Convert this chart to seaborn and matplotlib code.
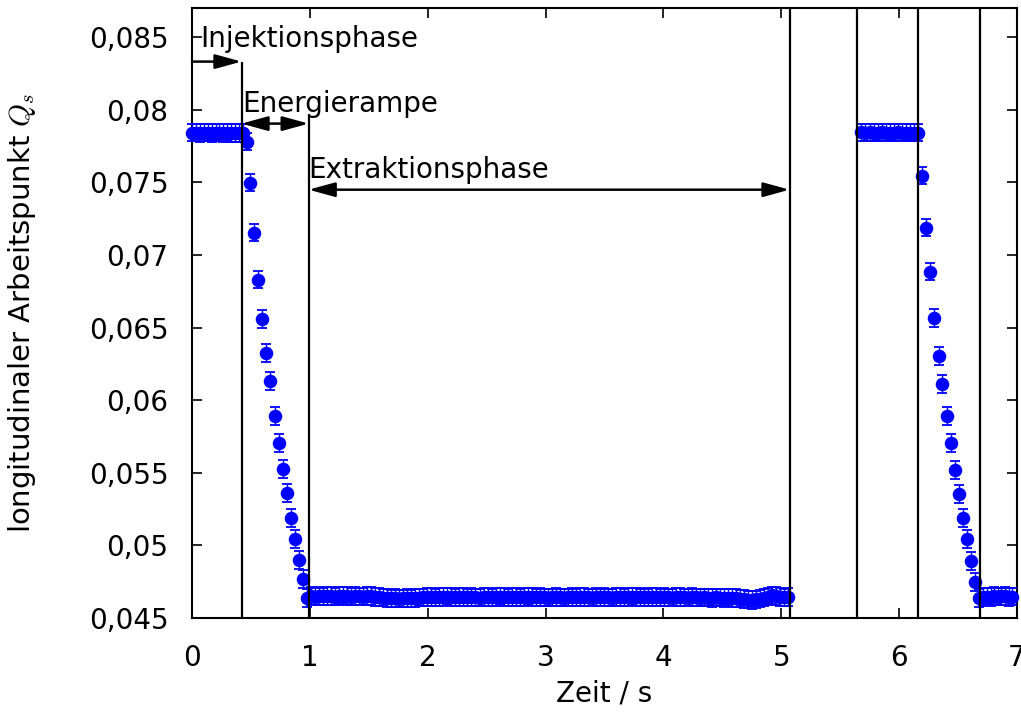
import numpy as np
import pandas as pd
import matplotlib
matplotlib.use("Agg")
import matplotlib.pyplot as plt
import seaborn as sns

# ---------------- data ----------------
# injection phase, cycle 1 (flat plateau)
inj1_t = (0.0, 0.433)
inj1_q = [0.07842, 0.07841, 0.07840, 0.07842, 0.07841, 0.07840, 0.07841,
          0.07842, 0.07840, 0.07841, 0.07840, 0.07839, 0.07840, 0.07838]
# energy ramp, cycle 1
ramp1_t = [0.467, 0.492, 0.526, 0.560, 0.594, 0.628, 0.662, 0.705,
           0.739, 0.772, 0.806, 0.840, 0.874, 0.908, 0.942, 0.976]
ramp1_q = [0.07780, 0.07497, 0.07153, 0.06829, 0.06560, 0.06326, 0.06133, 0.05892,
           0.05706, 0.05527, 0.05361, 0.05189, 0.05044, 0.04900, 0.04769, 0.04638]
# extraction phase, cycle 1
ext1_t = (1.01, 5.06)
ext1_q = [0.04650, 0.04648, 0.04651, 0.04649, 0.04652, 0.04650, 0.04648, 0.04651, 0.04653, 0.04650,
          0.04648, 0.04651, 0.04649, 0.04647, 0.04650, 0.04652, 0.04646, 0.04644, 0.04641, 0.04638,
          0.04635, 0.04637, 0.04634, 0.04636, 0.04638, 0.04635, 0.04637, 0.04640, 0.04642, 0.04644,
          0.04645, 0.04643, 0.04646, 0.04644, 0.04647, 0.04645, 0.04643, 0.04646, 0.04644, 0.04642,
          0.04645, 0.04643, 0.04641, 0.04644, 0.04646, 0.04643, 0.04645, 0.04647, 0.04644, 0.04642,
          0.04644, 0.04646, 0.04643, 0.04645, 0.04647, 0.04644, 0.04642, 0.04645, 0.04643, 0.04641,
          0.04643, 0.04645, 0.04642, 0.04640, 0.04643, 0.04645, 0.04642, 0.04644, 0.04646, 0.04643,
          0.04641, 0.04644, 0.04642, 0.04645, 0.04643, 0.04641, 0.04644, 0.04646, 0.04643, 0.04645,
          0.04647, 0.04644, 0.04642, 0.04645, 0.04643, 0.04646, 0.04644, 0.04642, 0.04645, 0.04643,
          0.04641, 0.04644, 0.04646, 0.04643, 0.04641, 0.04644, 0.04642, 0.04640, 0.04643, 0.04641,
          0.04639, 0.04642, 0.04640, 0.04638, 0.04641, 0.04639, 0.04637, 0.04634, 0.04630, 0.04627,
          0.04625, 0.04628, 0.04633, 0.04640, 0.04648, 0.04655, 0.04650, 0.04645, 0.04642, 0.04644]
# injection phase, cycle 2
inj2_t = (5.68, 6.163)
inj2_q = [0.07843, 0.07842, 0.07843, 0.07841, 0.07842, 0.07843, 0.07842, 0.07841,
          0.07842, 0.07843, 0.07842, 0.07841, 0.07842, 0.07841, 0.07842]
# energy ramp, cycle 2
ramp2_t = [6.197, 6.231, 6.265, 6.299, 6.341, 6.367, 6.409, 6.443,
           6.477, 6.511, 6.545, 6.579, 6.613, 6.647, 6.681]
ramp2_q = [0.07545, 0.07187, 0.06884, 0.06567, 0.06305, 0.06112, 0.05892, 0.05706,
           0.05520, 0.05354, 0.05189, 0.05044, 0.04893, 0.04749, 0.04638]
# extraction phase, cycle 2
ext2_t = (6.715, 6.96)
ext2_q = [0.04645, 0.04648, 0.04646, 0.04650, 0.04647, 0.04649, 0.04651, 0.04646, 0.04648]

q_err = 0.0006  # error bar half-length

# phase boundaries (vertical lines) and the upper end of each line
phase_x = [0.42, 0.99, 5.07, 5.64, 6.16, 6.69]
phase_top = [0.0833, 0.0797, 0.087, 0.087, 0.087, 0.087]

x_ticks = [0, 1, 2, 3, 4, 5, 6, 7]
x_labels = ["0", "1", "2", "3", "4", "5", "6", "7"]
y_ticks = [0.045, 0.05, 0.055, 0.06, 0.065, 0.07, 0.075, 0.08, 0.085]
y_labels = ["0,045", "0,05", "0,055", "0,06", "0,065", "0,07", "0,075", "0,08", "0,085"]

# annotations: (label, text x, text y, arrow x0, arrow x1, arrow y, style)
annots = [
    ("Injektionsphase", 0.07, 0.08434, 0.0, 0.42, 0.08331, "-|>"),
    ("Energierampe", 0.43, 0.07986, 0.42, 0.99, 0.07904, "<|-|>"),
    ("Extraktionsphase", 0.985, 0.07531, 0.99, 5.07, 0.07449, "<|-|>"),
]

# ---------------- build table ----------------
def seg(trange, q):
    return pd.DataFrame({"t": np.linspace(trange[0], trange[1], len(q)), "q": q})

df = pd.concat([
    seg(inj1_t, inj1_q),
    pd.DataFrame({"t": ramp1_t, "q": ramp1_q}),
    seg(ext1_t, ext1_q),
    seg(inj2_t, inj2_q),
    pd.DataFrame({"t": ramp2_t, "q": ramp2_q}),
    seg(ext2_t, ext2_q),
], ignore_index=True)

# ---------------- style ----------------
sns.set_theme(style="ticks", rc={"axes.edgecolor": "black", "text.color": "black",
                                 "axes.labelcolor": "black", "xtick.color": "black",
                                 "ytick.color": "black"})
plt.rcParams["font.family"] = ["DejaVu Sans"]
plt.rcParams["mathtext.fontset"] = "cm"

W, H = 1021, 722
fig = plt.figure(figsize=(W / 100, H / 100), dpi=100)
ax = fig.add_axes([192 / W, 1 - 618 / H, (1017 - 192) / W, (618 - 8) / H])

blue = "#0000ff"
ax.errorbar(df["t"], df["q"], yerr=q_err, fmt="none", ecolor=blue,
            elinewidth=1.0, capsize=3.5, capthick=1.3, clip_on=False, zorder=3)
sns.scatterplot(data=df, x="t", y="q", ax=ax, color=blue, s=95, linewidth=0,
                clip_on=False, zorder=4, legend=False)

for xv, top in zip(phase_x, phase_top):
    ax.vlines(xv, 0.045, top, color="black", lw=1.6, zorder=5)

for label, tx, ty, a0, a1, ay, style in annots:
    ax.text(tx, ty, label, fontsize=20, ha="left", va="baseline", zorder=6)
    ax.annotate("", xy=(a1, ay), xytext=(a0, ay),
                arrowprops=dict(arrowstyle=f"{style},head_length=0.8,head_width=0.22",
                                color="black", lw=1.8, shrinkA=0, shrinkB=0,
                                mutation_scale=20), zorder=6)

ax.set_xlim(0, 7)
ax.set_ylim(0.045, 0.087)
ax.set_xticks(x_ticks)
ax.set_xticklabels(x_labels)
ax.set_yticks(y_ticks)
ax.set_yticklabels(y_labels)
ax.tick_params(direction="in", length=7, width=1.2, top=True, right=True,
               labelsize=20)
ax.tick_params(axis="x", pad=19)
ax.tick_params(axis="y", pad=17)
for sp in ax.spines.values():
    sp.set_linewidth(1.5)
    sp.set_color("black")

ax.set_xlabel("Zeit / s", fontsize=20)
ax.set_ylabel("longitudinaler Arbeitspunkt $Q_s$", fontsize=21)
ax.xaxis.set_label_coords(0.5, -(679 - 618) / 610)
ax.yaxis.set_label_coords(-(192 - 38) / 825, 0.5)

fig.savefig("out.png", dpi=100)
